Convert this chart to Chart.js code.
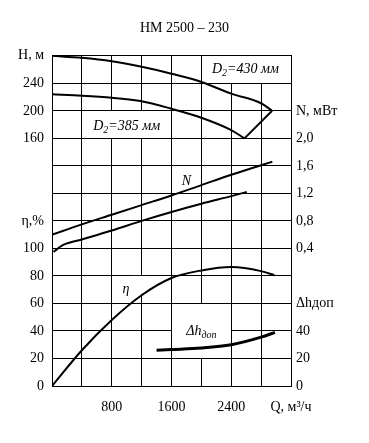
<!DOCTYPE html>
<html>
<head>
<meta charset="utf-8">
<script src="https://cdn.jsdelivr.net/npm/chart.js@4/dist/chart.umd.min.js"></script>
<style>
  html, body { margin: 0; padding: 0; background: #fff; }
</style>
</head>
<body>
<canvas id="pumpChart" width="369" height="443"></canvas>
<script>
// НМ 2500-230 pump characteristic: H, N, eta and NPSH vs flow Q

// head H (m), impeller D2 = 430 mm
var q430 = [0, 400, 800, 1200, 1600, 2000, 2400, 2800, 2947];
var head430 = [280, 277, 272, 264, 254, 242, 225, 211, 200];

// head H (m), impeller D2 = 385 mm
var q385 = [0, 400, 800, 1200, 1600, 2000, 2400, 2577];
var head385 = [224, 222, 219, 214, 203, 190, 172, 160];

// line joining the ends of the two head curves
var qEdge = [2947, 2577];
var headEdge = [200, 160];

// power N (MW)
var qPower1 = [0, 400, 800, 1200, 1600, 2000, 2400, 2800, 2950];
var power1 = [0.60, 0.75, 0.89, 1.03, 1.17, 1.32, 1.47, 1.61, 1.66];
var qPower2 = [20, 150, 400, 800, 1200, 1600, 2000, 2400, 2608];
var power2 = [0.35, 0.45, 0.53, 0.66, 0.80, 0.93, 1.05, 1.16, 1.22];

// efficiency eta (%)
var qEff = [0, 400, 800, 1200, 1600, 2000, 2400, 2800, 2978];
var eff = [0, 26, 48, 66, 78.5, 84, 86.5, 83.5, 80.5];

// required NPSH (m)
var qNpsh = [1400, 1600, 2000, 2400, 2800, 2985];
var npsh = [26, 26.5, 27.6, 30, 35.5, 39];

// tick labels
var xTickValues = [800, 1600, 2400, 3200];
var xTickLabels = ['800', '1600', '2400', 'Q, м³/ч'];
var leftTickLabels = ['0', '20', '40', '60', '80', '100', 'η,%', '', '', '160', '200', '240', 'H, м'];
var rightTickLabels = ['0', '20', '40', 'Δhдоп', '', '0,4', '0,8', '1,2', '1,6', '2,0', 'N, мВт', '', ''];

function pts(xs, ys) {
  var out = [];
  for (var i = 0; i < xs.length; i++) {
    out.push({ x: xs[i], y: ys[i] });
  }
  return out;
}

var serif = 'Liberation Serif, "Times New Roman", serif';

// white boxes behind the curve labels (in axis units of x / y)
var boxes = [
  { x1: 2000, x2: 3200, y1: 220, y2: 240 },
  { x1: 400, x2: 1600, y1: 180, y2: 200 },
  { x1: 1600, x2: 2400, y1: 20, y2: 60 },
  { x1: 1050, x2: 1280, y1: 67, y2: 80, free: true }
];

// label text in parts: [text, subscript?]
var labels = [
  { parts: [['D', 0], ['2', 1], ['=430 мм', 0]], x: 2590, y: 230 },
  { parts: [['D', 0], ['2', 1], ['=385 мм', 0]], x: 1000, y: 189 },
  { parts: [['N', 0]], x: 1800, y: 149 },
  { parts: [['η', 0]], x: 990, y: 70 },
  { parts: [['Δh', 0], ['доп', 1]], x: 2000, y: 40 }
];

var labelPlugin = {
  id: 'labelBoxes',
  beforeDatasetsDraw: function(chart) {
    var ctx = chart.ctx;
    var xs = chart.scales.x, ys = chart.scales.y;
    ctx.save();
    ctx.fillStyle = '#fff';
    boxes.forEach(function(b) {
      var l = xs.getPixelForValue(b.x1), r = xs.getPixelForValue(b.x2);
      var t = ys.getPixelForValue(b.y2), bt = ys.getPixelForValue(b.y1);
      if (!b.free) {
        l = Math.round(l - 0.5) + 1; r = Math.round(r - 0.5);
        t = Math.round(t - 0.5) + 1; bt = Math.round(bt - 0.5);
      }
      ctx.fillRect(l, t, r - l, bt - t);
    });
    ctx.restore();
  },
  afterDatasetsDraw: function(chart) {
    var ctx = chart.ctx;
    var xs = chart.scales.x, ys = chart.scales.y;
    ctx.save();
    ctx.fillStyle = '#000';
    ctx.textBaseline = 'middle';
    ctx.textAlign = 'left';
    labels.forEach(function(lb) {
      var px = xs.getPixelForValue(lb.x), py = ys.getPixelForValue(lb.y);
      var total = 0, widths = [];
      lb.parts.forEach(function(p) {
        ctx.font = 'italic ' + (p[1] ? 10 : 14) + 'px ' + serif;
        var w = ctx.measureText(p[0]).width;
        widths.push(w);
        total += w;
      });
      var cx = px - total / 2;
      lb.parts.forEach(function(p, i) {
        ctx.font = 'italic ' + (p[1] ? 10 : 14) + 'px ' + serif;
        ctx.fillText(p[0], cx, p[1] ? py + 4 : py);
        cx += widths[i];
      });
    });
    ctx.restore();
  }
};

function curve(data, axis, width, smooth) {
  return {
    data: data,
    yAxisID: axis,
    borderColor: '#000',
    borderWidth: width,
    pointRadius: 0,
    fill: false,
    cubicInterpolationMode: smooth ? 'monotone' : 'default',
    tension: 0
  };
}

var ctx = document.getElementById('pumpChart');

var chart = new Chart(ctx, {
  type: 'line',
  data: {
    datasets: [
      curve(pts(q430, head430), 'yH', 2, true),
      curve(pts(q385, head385), 'yH', 2, true),
      curve(pts(qEdge, headEdge), 'yH', 2, false),
      curve(pts(qPower1, power1), 'yN', 2, true),
      curve(pts(qPower2, power2), 'yN', 2, true),
      curve(pts(qEff, eff), 'y', 2, true),
      curve(pts(qNpsh, npsh), 'y2', 3, true)
    ]
  },
  options: {
    responsive: false,
    animation: false,
    layout: { padding: 0 },
    plugins: {
      legend: { display: false },
      tooltip: { enabled: false },
      title: {
        display: true,
        text: 'НМ 2500 – 230',
        color: '#000',
        font: { family: serif, size: 14, weight: 'normal' },
        padding: { top: 20, bottom: 19 }
      }
    },
    scales: {
      x: {
        type: 'linear',
        min: 0,
        max: 3200,
        ticks: {
          stepSize: 400,
          autoSkip: false,
          maxRotation: 0,
          padding: 13,
          color: '#000',
          font: { family: serif, size: 14 },
          callback: function(v) {
            var i = xTickValues.indexOf(v);
            return i < 0 ? '' : xTickLabels[i];
          }
        },
        grid: { color: '#000', lineWidth: 1, drawTicks: false },
        border: { color: '#000' },
        afterFit: function(s) { s.height = 57; }
      },
      y: {
        position: 'left',
        min: 0,
        max: 240,
        ticks: {
          stepSize: 20,
          autoSkip: false,
          padding: 8,
          color: '#000',
          font: { family: serif, size: 14 },
          callback: function(v, i) { return leftTickLabels[i]; }
        },
        grid: { color: '#000', lineWidth: 1, drawTicks: false },
        border: { color: '#000' },
        afterFit: function(s) { s.width = 52; }
      },
      y2: {
        position: 'right',
        min: 0,
        max: 240,
        ticks: {
          stepSize: 20,
          autoSkip: false,
          padding: 5,
          color: '#000',
          font: { family: serif, size: 14 },
          callback: function(v, i) { return rightTickLabels[i]; }
        },
        grid: { display: false, drawTicks: false },
        border: { color: '#000' },
        afterFit: function(s) { s.width = 78; }
      },
      yH: { display: false, min: -200, max: 280 },
      yN: { display: false, min: -1.6, max: 3.2 }
    }
  },
  plugins: [labelPlugin]
});
</script>
</body>
</html>
